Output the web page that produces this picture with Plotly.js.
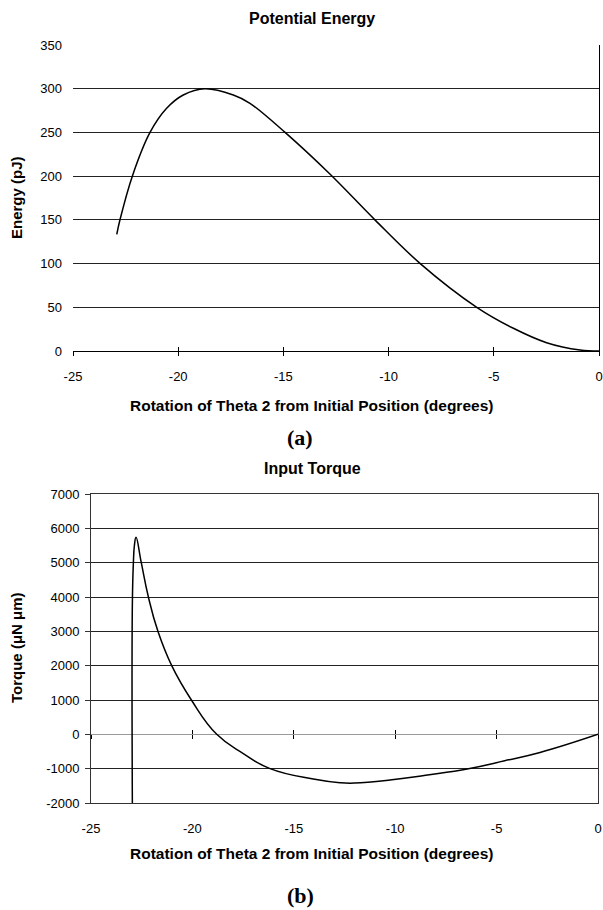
<!DOCTYPE html>
<html><head><meta charset="utf-8">
<script src="https://cdn.plot.ly/plotly-3.0.1.min.js"></script>
<style>html,body{margin:0;padding:0;background:#fff}#chart{width:603px;height:910px}</style>
</head><body><div id="chart"></div>
<script>
// ---- data ----
const energyX = [-22.92, -22.77, -22.18, -21.34, -20.55, -19.76, -18.73, -17.38, -16.59, -14.92, -12.79, -10.65, -8.51, -5.81, -4.07, -2.49, -0.9, 0];
const energyY = [133.5, 149.8, 200, 250, 277.6, 292.8, 300, 292.8, 283.3, 250, 202.4, 150, 100.3, 50, 26, 9.5, 1.1, 0];

const torqueX = [-22.96, -22.96, -22.91, -22.86, -22.78, -22.52, -22.17, -21.7, -21.02, -20.05, -18.8, -17.49, -16.17, -14.04, -12.72, -12.0, -10.26, -8.5, -6.39, -4.6, -2.86, 0];
const torqueY = [-2050, 3815, 5000, 5500, 5740, 5000, 4000, 3000, 2000, 1000, 0, -560, -1000, -1302, -1410, -1420, -1331, -1190, -1000, -770, -530, 0];

const xTickVals = [-25, -20, -15, -10, -5, 0];
const xTickText = ['-25', '-20', '-15', '-10', '-5', '0'];
const energyTicks = [0, 50, 100, 150, 200, 250, 300, 350];
const energyTickText = ['0', '50', '100', '150', '200', '250', '300', '350'];
const torqueTicks = [-2000, -1000, 0, 1000, 2000, 3000, 4000, 5000, 6000, 7000];
const torqueTickText = ['-2000', '-1000', '0', '1000', '2000', '3000', '4000', '5000', '6000', '7000'];

const titleTop = 'Potential Energy';
const titleBottom = 'Input Torque';
const xTitle = 'Rotation of Theta 2 from Initial Position (degrees)';
const yTitleTop = 'Energy (pJ)';
const yTitleBottom = 'Torque (\u03bcN \u03bcm)';

// ---- layout geometry ----
const W = 603, H = 910;
const topDomX = [73 / W, 599 / W], topDomY = [1 - 351 / H, 1 - 45 / H];
const botDomX = [91 / W, 598 / W], botDomY = [1 - 803 / H, 1 - 494 / H];
const xRange = [-25, 0];
const energyRange = [0, 350];
const torqueRange = [-2000, 7000];
const zeroPos = botDomY[0] + (0 - torqueRange[0]) / (torqueRange[1] - torqueRange[0]) * (botDomY[1] - botDomY[0]);

const SANS = 'Liberation Sans, Arial, sans-serif';
const SERIF = 'Liberation Serif, Times New Roman, serif';
const GRID = '#222';

const helper = (xa, ya) => ({x: [], y: [], xaxis: xa, yaxis: ya, type: 'scatter', mode: 'lines', hoverinfo: 'skip'});

const traces = [
  {x: energyX, y: energyY, xaxis: 'x', yaxis: 'y', type: 'scatter', mode: 'lines',
   line: {color: '#000', width: 1.5, shape: 'spline', smoothing: 1}, hoverinfo: 'skip'},
  {x: torqueX, y: torqueY, xaxis: 'x2', yaxis: 'y2', type: 'scatter', mode: 'lines',
   line: {color: '#000', width: 1.5, shape: 'spline', smoothing: 1.3}, hoverinfo: 'skip'},
  helper('x3', 'y'), helper('x', 'y3'), helper('x4', 'y2'), helper('x5', 'y2')
];

const tickFont = {family: SANS, size: 13, color: '#000'};
const titleFont = {family: SANS, size: 16, color: '#000'};
const xTitleFont = {family: SANS, size: 15.5, color: '#000'};
const yTitleFont = {family: SANS, size: 15, color: '#000'};
const capFont = {family: SERIF, size: 22, color: '#000'};

const layout = {
  width: W, height: H,
  margin: {l: 0, r: 0, t: 0, b: 0, pad: 0},
  paper_bgcolor: '#fff', plot_bgcolor: 'rgba(0,0,0,0)',
  showlegend: false,
  font: {family: SANS, size: 12, color: '#000'},
  // top chart
  xaxis: {domain: topDomX, anchor: 'y', range: xRange, tickvals: xTickVals, ticktext: xTickText,
          ticks: 'outside', ticklen: 4, tickcolor: '#000', tickwidth: 1, showline: true, linecolor: '#000',
          linewidth: 1, showgrid: false, zeroline: false, tickfont: tickFont, ticklabelstandoff: 9, fixedrange: true},
  xaxis3: {overlaying: 'x', anchor: 'y', range: xRange, tickvals: xTickVals, ticks: 'inside', ticklen: 4,
           tickcolor: '#000', showticklabels: false, showgrid: false, zeroline: false, showline: false},
  yaxis: {domain: topDomY, anchor: 'x', range: energyRange, tickvals: energyTicks, ticktext: energyTickText, ticks: '',
          showgrid: true, gridcolor: GRID, gridwidth: 1, zeroline: false, showline: false,
          tickfont: tickFont, ticklabelstandoff: 10, fixedrange: true},
  yaxis3: {overlaying: 'y', anchor: 'x', side: 'right', range: energyRange, showline: true, linecolor: '#000',
           linewidth: 1, ticks: '', showticklabels: false, showgrid: false, zeroline: false},
  // bottom chart
  xaxis2: {domain: botDomX, anchor: 'y2', range: xRange, tickvals: xTickVals, ticktext: xTickText, ticks: '',
           showline: true, mirror: true, linecolor: '#333', linewidth: 1, showgrid: false, zeroline: false,
           tickfont: tickFont, ticklabelstandoff: 13, fixedrange: true},
  xaxis4: {overlaying: 'x2', anchor: 'free', position: zeroPos, range: xRange, tickvals: xTickVals,
           ticks: 'outside', ticklen: 4, tickcolor: '#000', showticklabels: false, showgrid: false,
           zeroline: false, showline: false},
  xaxis5: {overlaying: 'x2', anchor: 'free', position: zeroPos, range: xRange, tickvals: xTickVals,
           ticks: 'inside', ticklen: 4, tickcolor: '#000', showticklabels: false, showgrid: false,
           zeroline: false, showline: false},
  yaxis2: {domain: botDomY, anchor: 'x2', range: torqueRange, tickvals: torqueTicks, ticktext: torqueTickText,
           ticks: 'outside', ticklen: 5, tickcolor: '#333', showline: true, mirror: true, linecolor: '#333',
           linewidth: 1, showgrid: true, gridcolor: GRID, gridwidth: 1, zeroline: true, zerolinecolor: '#999',
           zerolinewidth: 1, tickfont: tickFont, ticklabelstandoff: 3, fixedrange: true},
  annotations: [
    {text: '<b>' + titleTop + '</b>', xref: 'paper', yref: 'paper', x: 312 / W, y: 1 - 18 / H,
     xanchor: 'center', yanchor: 'middle', showarrow: false, font: titleFont},
    {text: '<b>' + xTitle + '</b>', xref: 'paper', yref: 'paper', x: 311 / W, y: 1 - 405 / H,
     xanchor: 'center', yanchor: 'middle', showarrow: false, font: xTitleFont},
    {text: '<b>' + yTitleTop + '</b>', xref: 'paper', yref: 'paper', x: 16 / W, y: 1 - 198 / H,
     xanchor: 'center', yanchor: 'middle', textangle: -90, showarrow: false, font: yTitleFont},
    {text: '<b>(a)</b>', xref: 'paper', yref: 'paper', x: 300 / W, y: 1 - 437 / H,
     xanchor: 'center', yanchor: 'middle', showarrow: false, font: capFont},
    {text: '<b>' + titleBottom + '</b>', xref: 'paper', yref: 'paper', x: 312 / W, y: 1 - 469 / H,
     xanchor: 'center', yanchor: 'middle', showarrow: false, font: titleFont},
    {text: '<b>' + xTitle + '</b>', xref: 'paper', yref: 'paper', x: 311 / W, y: 1 - 853 / H,
     xanchor: 'center', yanchor: 'middle', showarrow: false, font: xTitleFont},
    {text: '<b>' + yTitleBottom + '</b>', xref: 'paper', yref: 'paper', x: 16 / W, y: 1 - 648 / H,
     xanchor: 'center', yanchor: 'middle', textangle: -90, showarrow: false, font: yTitleFont},
    {text: '<b>(b)</b>', xref: 'paper', yref: 'paper', x: 300 / W, y: 1 - 895 / H,
     xanchor: 'center', yanchor: 'middle', showarrow: false, font: capFont}
  ]
};

Plotly.newPlot('chart', traces, layout, {staticPlot: true, displayModeBar: false});
</script>
</body></html>
